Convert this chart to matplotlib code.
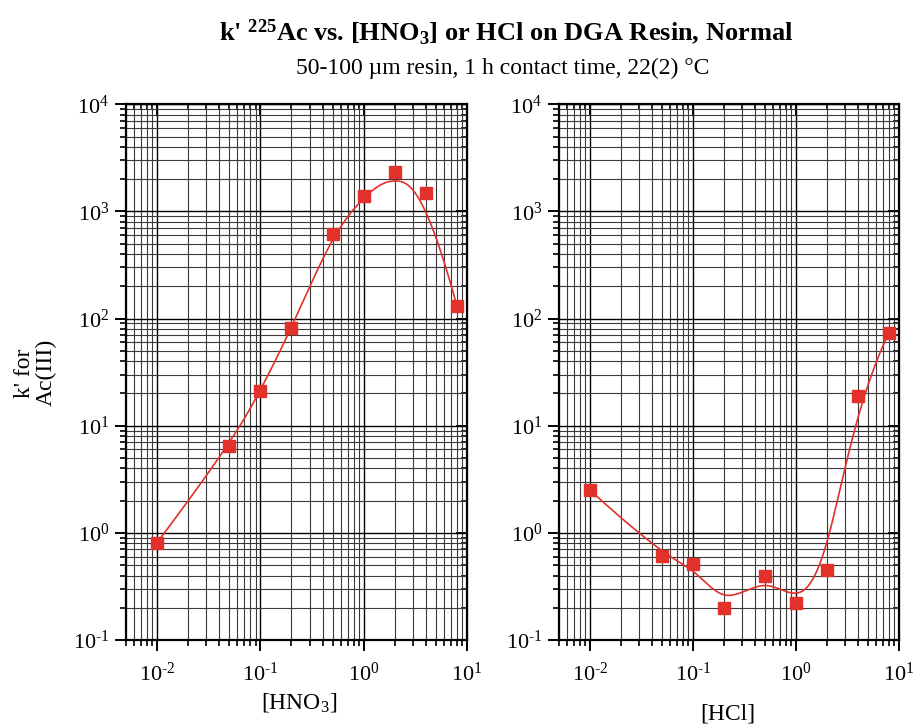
import numpy as np
import matplotlib
matplotlib.use("Agg")
import matplotlib.pyplot as plt
from matplotlib.ticker import LogLocator, NullFormatter, FuncFormatter

plt.rcParams.update({
    'font.family': ['Liberation Serif', 'DejaVu Serif'],
    'mathtext.fontset': 'custom',
    'mathtext.rm': 'Liberation Serif',
    'mathtext.it': 'Liberation Serif:italic',
    'mathtext.bf': 'Liberation Serif:bold',
    'axes.unicode_minus': False,
    'font.size': 14,
})

# data
hno3_conc = [0.01, 0.05, 0.1, 0.2, 0.5, 1, 2, 4, 8]
hno3_k = [0.81, 6.4, 21, 81, 620, 1380, 2350, 1500, 130]
hcl_conc = [0.01, 0.05, 0.1, 0.2, 0.5, 1, 2, 4, 8]
hcl_k = [2.5, 0.61, 0.51, 0.20, 0.40, 0.22, 0.45, 19, 74]

red = '#e2302a'


def bspline(P, npts=500, k=3):
    # clamped uniform B-spline with the points as control polygon
    n = len(P)
    t = np.concatenate([np.zeros(k), np.arange(n - k + 1), np.full(k, n - k)]).astype(float)
    u = np.linspace(0, n - k, npts)
    u[-1] -= 1e-9
    N = np.zeros((npts, len(t) - 1))
    for i in range(len(t) - 1):
        N[:, i] = (t[i] <= u) & (u < t[i + 1])
    for d in range(1, k + 1):
        for i in range(len(t) - 1 - d):
            left = (u - t[i]) / (t[i + d] - t[i]) * N[:, i] if t[i + d] > t[i] else 0
            right = (t[i + d + 1] - u) / (t[i + d + 1] - t[i + 1]) * N[:, i + 1] if t[i + d + 1] > t[i + 1] else 0
            N[:, i] = left + right
    return N[:, :n] @ P


def log_label(v, pos):
    e = int(round(np.log10(v)))
    if e < 0:
        return r'$\mathdefault{10^{\text{-}%d}}$' % (-e)
    return r'$\mathdefault{10^{%d}}$' % e


def draw_panel(ax, conc, k):
    P = np.column_stack([np.log10(conc), np.log10(k)])
    curve = bspline(P)
    ax.plot(10 ** curve[:, 0], 10 ** curve[:, 1], color=red, lw=1.2, zorder=3)
    ax.plot(conc, k, ls='none', marker='s', ms=8.5, color=red, mec=red, zorder=4)

    ax.set_xscale('log')
    ax.set_yscale('log')
    ax.set_xlim(0.005, 10)
    ax.set_ylim(0.1, 1e4)
    ax.xaxis.set_major_locator(LogLocator(base=10, numticks=10))
    ax.xaxis.set_minor_locator(LogLocator(base=10, subs=np.arange(2, 10), numticks=20))
    ax.yaxis.set_major_locator(LogLocator(base=10, numticks=10))
    ax.yaxis.set_minor_locator(LogLocator(base=10, subs=np.arange(2, 10), numticks=20))
    ax.xaxis.set_major_formatter(FuncFormatter(log_label))
    ax.yaxis.set_major_formatter(FuncFormatter(log_label))
    ax.xaxis.set_minor_formatter(NullFormatter())
    ax.yaxis.set_minor_formatter(NullFormatter())

    ax.grid(which='major', color='black', lw=1.0)
    ax.grid(which='minor', color='#3a3a3a', lw=0.8)
    ax.set_axisbelow(True)
    for s in ax.spines.values():
        s.set_linewidth(1.6)
    ax.tick_params(which='major', direction='out', length=8, width=1.4, labelsize=16, pad=4)
    ax.tick_params(which='minor', direction='out', length=4.5, width=1.2)
    ax.tick_params(axis='x', which='major', pad=8)

    top = ax.secondary_xaxis('top')
    top.tick_params(which='major', direction='in', length=8, width=1.4)
    top.tick_params(which='minor', direction='in', length=4.5, width=1.2)
    top.xaxis.set_major_formatter(NullFormatter())
    top.xaxis.set_minor_formatter(NullFormatter())
    right = ax.secondary_yaxis('right')
    right.tick_params(which='major', direction='in', length=8, width=1.4)
    right.tick_params(which='minor', direction='in', length=4.5, width=1.2)
    right.yaxis.set_major_formatter(NullFormatter())
    right.yaxis.set_minor_formatter(NullFormatter())


fig = plt.figure(figsize=(9.15, 7.24), dpi=100)
ax1 = fig.add_axes([0.1377, 0.116, 0.3727, 0.740])
ax2 = fig.add_axes([0.611, 0.116, 0.3716, 0.740])

draw_panel(ax1, hno3_conc, hno3_k)
draw_panel(ax2, hcl_conc, hcl_k)

fig.text(0.553, 0.956, r"k' $^{\mathbf{225}}$Ac vs. [HNO$_{\mathbf{3}}$] or HCl on DGA Resin, Normal",
         ha='center', va='center', fontsize=19, fontweight='bold')
fig.text(0.549, 0.906, "50-100 \u00b5m resin, 1 h contact time, 22(2) \u00b0C",
         ha='center', va='center', fontsize=17)
fig.text(0.039, 0.485, "k' for\nAc(III)", rotation=90, ha='center', va='center',
         multialignment='center', fontsize=17, linespacing=1.05)
fig.text(0.327, 0.030, r"[HNO$_3$]", ha='center', va='center', fontsize=17)
fig.text(0.795, 0.014, "[HCl]", ha='center', va='center', fontsize=17)

fig.savefig('out.png', dpi=100)
